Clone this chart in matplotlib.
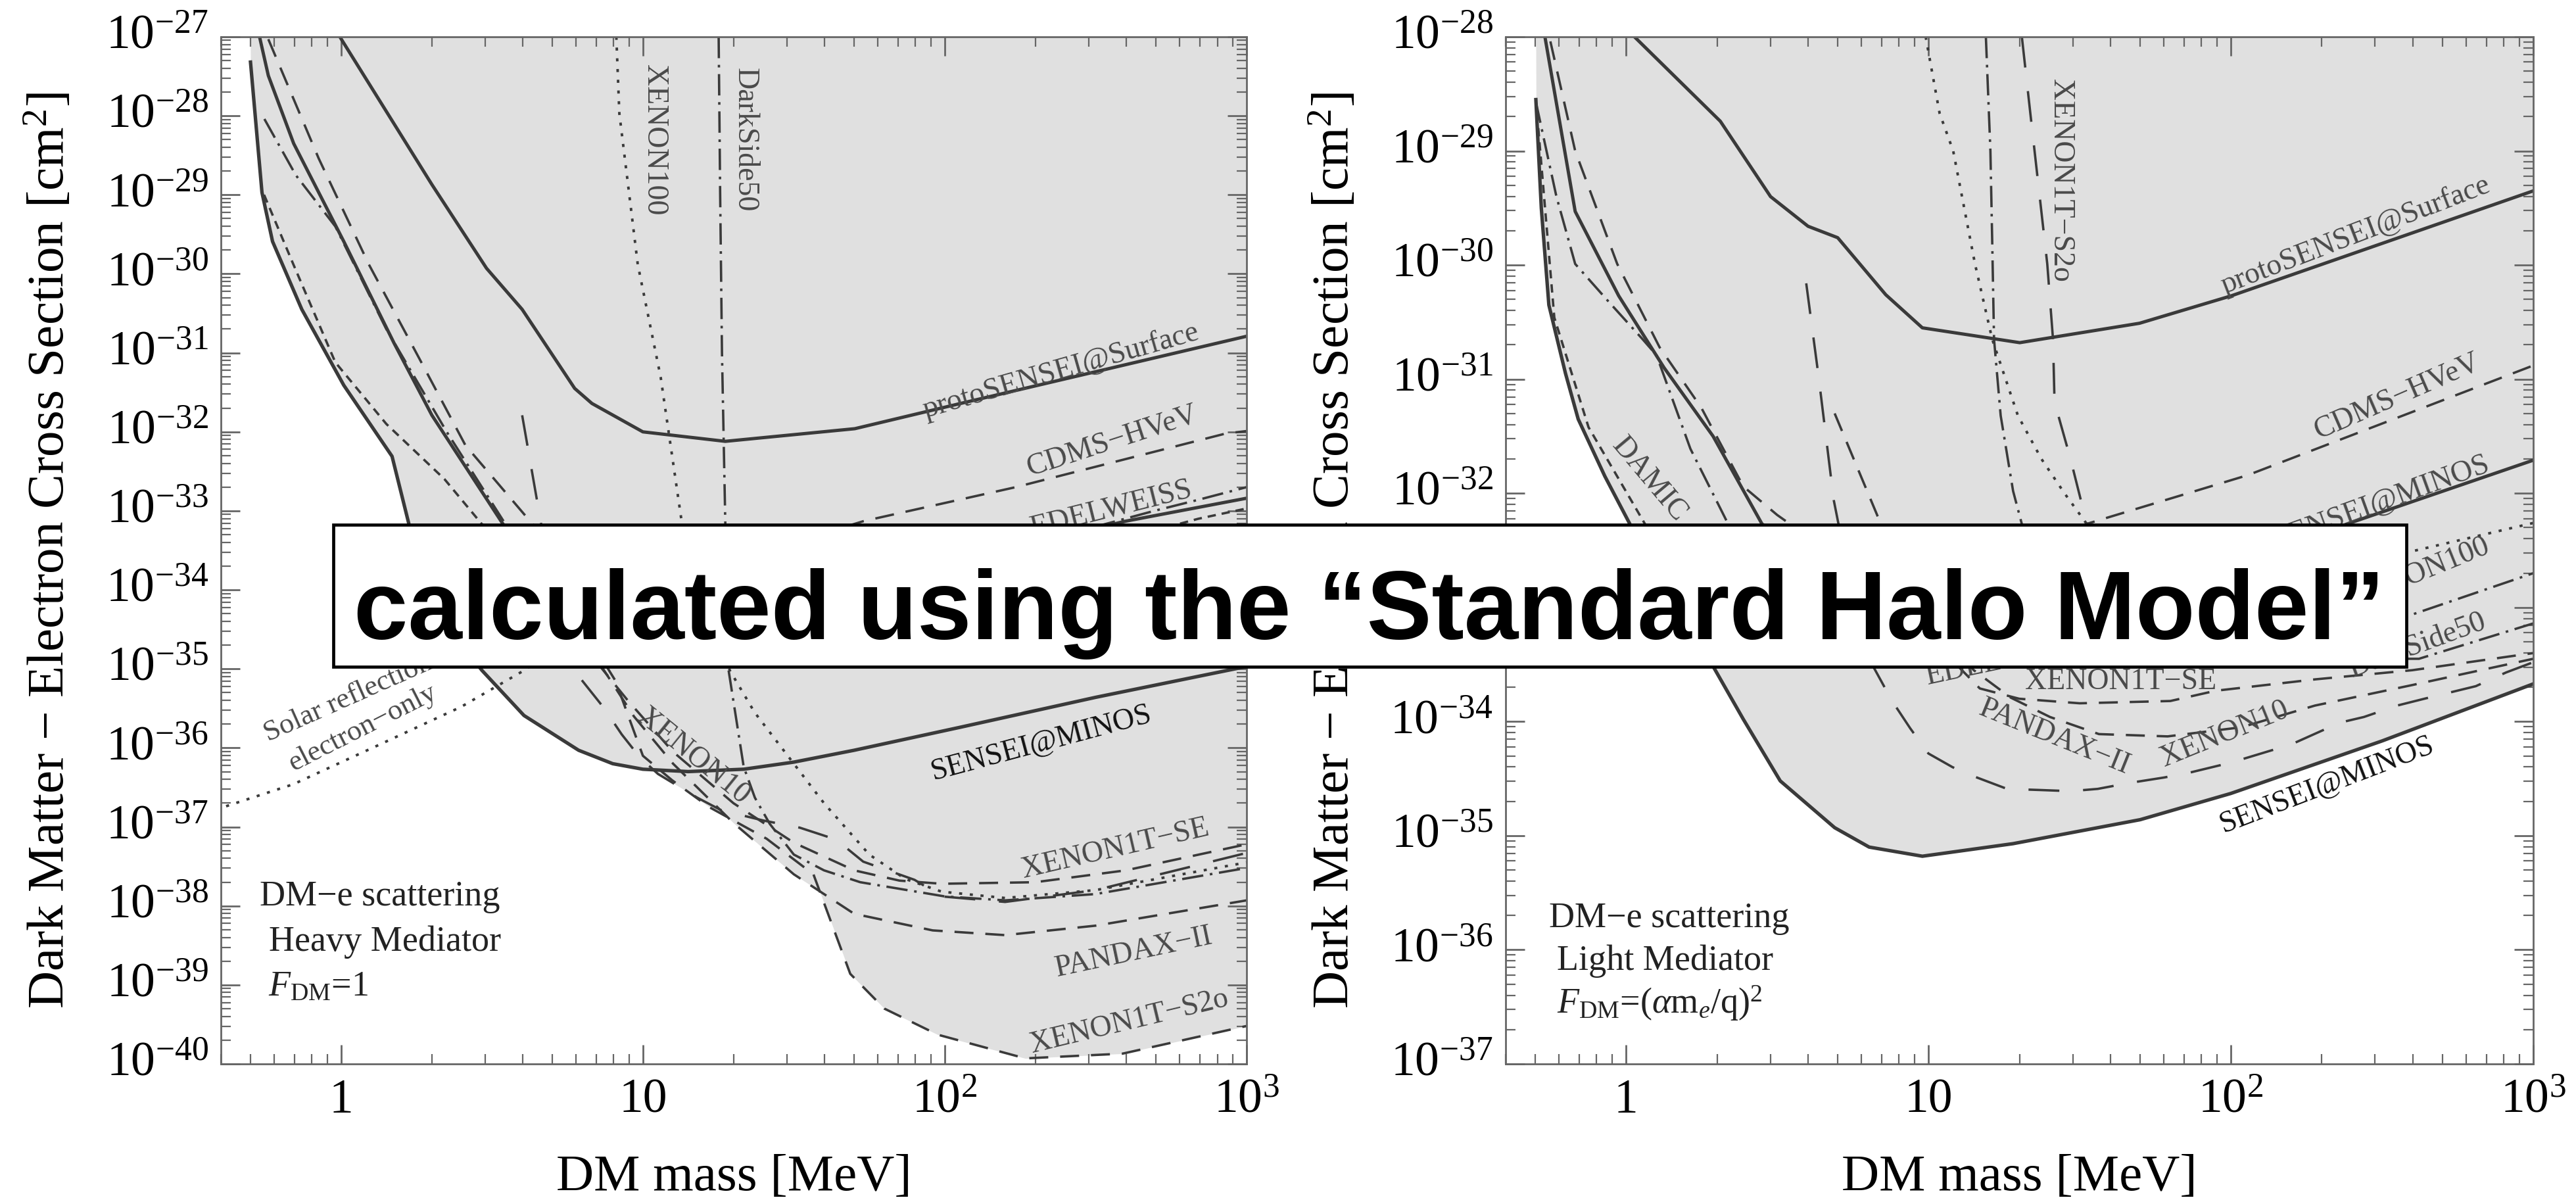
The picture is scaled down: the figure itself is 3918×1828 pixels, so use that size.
import numpy as np
import matplotlib
matplotlib.use("Agg")
import matplotlib.pyplot as plt
from matplotlib.patches import Rectangle
from matplotlib.ticker import LogLocator, NullFormatter

plt.rcParams['font.family'] = ['Liberation Serif', 'DejaVu Serif']
plt.rcParams['mathtext.fontset'] = 'custom'
plt.rcParams['mathtext.rm'] = 'Liberation Serif'
plt.rcParams['mathtext.it'] = 'Liberation Serif:italic'
plt.rcParams['mathtext.bf'] = 'Liberation Serif:bold'

LINE = '#3a3a3a'
LABEL = '#4a4a4a'
FILL = '#e0e0e0'

# all limits stored as log10(m / MeV), log10(sigma_e / cm^2)

# ---- heavy mediator, F_DM = 1
h_sensei_minos_x = [-0.300, -0.262, -0.227, -0.130, 0.009, 0.169, 0.225, 0.30, 0.38, 0.467, 0.606, 0.787, 0.90, 1.0, 1.15, 1.334, 1.50, 1.70, 2.05, 2.5, 3.0]
h_sensei_minos_y = [-27.32, -28.97, -29.59, -30.45, -31.41, -32.31, -33.17, -34.2, -34.6, -35.02, -35.59, -36.03, -36.2, -36.27, -36.30, -36.27, -36.18, -36.03, -35.74, -35.36, -34.97]
h_proto_surface_x = [-0.004, 0.301, 0.482, 0.600, 0.774, 0.831, 1.0, 1.273, 1.702, 2.053, 3.0]
h_proto_surface_y = [-27.0, -28.87, -29.93, -30.45, -31.45, -31.64, -32.0, -32.12, -31.96, -31.64, -30.79]
h_proto_minos_x = [-0.270, -0.241, -0.157, 0.009, 0.176, 0.301, 0.537, 0.8, 1.2, 1.6, 2.0, 2.3, 2.6, 3.0]
h_proto_minos_y = [-27.0, -27.49, -28.35, -29.59, -30.88, -31.79, -33.17, -34.0, -34.2, -34.0, -33.7, -33.4, -33.13, -32.84]
h_cdms_x = [-0.241, -0.074, 0.092, 0.259, 0.412, 0.635, 0.9, 1.2, 1.5, 1.731, 2.235, 2.932, 3.0]
h_cdms_y = [-27.03, -28.54, -29.88, -31.07, -32.17, -33.17, -33.9, -33.8, -33.4, -33.13, -32.70, -32.02, -31.99]
h_edelweiss_x = [-0.254, -0.15, -0.019, 0.15, 0.35, 0.55, 1.0, 2.0, 2.5, 2.694, 2.84, 3.0]
h_edelweiss_y = [-28.04, -28.75, -29.40, -30.7, -32.0, -33.2, -34.0, -33.55, -33.2, -33.0, -32.86, -32.70]
h_damic_x = [-0.255, -0.158, -0.019, 0.15, 0.343, 0.467, 0.8, 1.3, 2.0, 2.6, 2.694, 2.84, 3.0]
h_damic_y = [-29.0, -29.88, -31.12, -31.9, -32.6, -33.17, -33.7, -33.8, -33.6, -33.35, -33.25, -33.1, -32.97]
h_xenon10_x = [0.600, 0.663, 0.72, 0.772, 0.87, 0.93, 0.99, 1.05, 1.18, 1.26, 1.40, 1.52, 1.64, 1.73, 1.90, 1.99, 2.2, 2.5, 3.0]
h_xenon10_y = [-31.79, -33.17, -34.3, -35.02, -35.49, -35.83, -36.12, -36.33, -36.63, -36.79, -36.92, -37.01, -37.16, -37.44, -37.67, -37.88, -37.95, -37.8, -37.33]
h_xenon100_x = [0.912, 0.922, 0.983, 1.059, 1.129, 1.22, 1.288, 1.37, 1.46, 1.60, 1.75, 1.87, 1.99, 2.2, 2.5, 3.0]
h_xenon100_y = [-27.0, -27.97, -29.88, -31.31, -33.15, -34.3, -35.02, -35.55, -36.0, -36.7, -37.35, -37.66, -37.82, -37.9, -37.8, -37.45]
h_darkside_x = [1.251, 1.256, 1.262, 1.273, 1.284, 1.334, 1.371, 1.42, 1.50, 1.60, 1.72, 2.0, 2.2, 2.5, 3.0]
h_darkside_y = [-27.0, -29.0, -31.0, -33.15, -35.02, -36.24, -36.63, -36.96, -37.35, -37.55, -37.7, -37.88, -37.93, -37.85, -37.52]
h_xenon1t_se_x = [0.78, 0.95, 1.1, 1.3, 1.5, 1.7, 1.85, 1.99, 2.3, 2.6, 3.0]
h_xenon1t_se_y = [-34.6, -35.4, -36.05, -36.7, -37.2, -37.55, -37.68, -37.72, -37.70, -37.55, -37.22]
h_pandax_x = [0.80, 0.97, 1.1, 1.3, 1.5, 1.7, 1.96, 2.2, 2.5, 3.0]
h_pandax_y = [-34.6, -35.6, -36.2, -36.95, -37.6, -38.1, -38.31, -38.37, -38.25, -37.93]
h_xenon1t_s2o_x = [0.82, 0.909, 1.0, 1.097, 1.22, 1.41, 1.565, 1.687, 1.8, 1.977, 2.267, 2.589, 3.0]
h_xenon1t_s2o_y = [-34.6, -35.15, -36.1, -36.41, -36.75, -37.15, -37.6, -38.86, -39.3, -39.63, -39.93, -39.87, -39.52]
h_solar_x = [-0.45, -0.398, -0.158, 0.121, 0.398, 0.606, 0.8, 0.95]
h_solar_y = [-36.8, -36.76, -36.46, -35.97, -35.48, -35.02, -34.5, -34.0]

# ---- light mediator, F_DM = (alpha m_e / q)^2
l_sensei_minos_x = [-0.298, -0.28, -0.255, -0.2, -0.158, -0.07, 0.013, 0.15, 0.291, 0.388, 0.51, 0.69, 0.804, 0.98, 1.28, 1.70, 2.0, 2.5, 3.0]
l_sensei_minos_y = [-28.55, -29.5, -30.35, -30.95, -31.35, -31.85, -32.27, -32.95, -33.53, -33.98, -34.52, -34.93, -35.10, -35.18, -35.07, -34.86, -34.63, -34.17, -33.67]
l_proto_surface_x = [0.028, 0.312, 0.478, 0.602, 0.700, 0.859, 0.98, 1.302, 1.698, 2.001, 3.0]
l_proto_surface_y = [-28.0, -28.74, -29.40, -29.66, -29.76, -30.26, -30.55, -30.68, -30.51, -30.27, -29.35]
l_proto_minos_x = [-0.268, -0.168, -0.024, 0.126, 0.288, 0.45, 0.8, 1.2, 1.7, 2.1, 2.383, 3.0]
l_proto_minos_y = [-28.0, -29.53, -30.27, -30.90, -31.50, -32.27, -32.8, -32.95, -32.8, -32.55, -32.27, -31.71]
l_cdms_x = [-0.250, -0.168, -0.029, 0.111, 0.249, 0.388, 0.50, 0.8, 1.2, 1.521, 2.057, 3.0]
l_cdms_y = [-28.04, -29.0, -29.99, -30.72, -31.25, -31.94, -32.19, -32.75, -32.7, -32.27, -31.84, -30.88]
l_edelweiss_x = [-0.298, -0.23, -0.168, -0.061, 0.055, 0.101, 0.213, 0.338, 0.6, 1.0, 1.6, 2.2, 2.622, 3.0]
l_edelweiss_y = [-28.57, -29.4, -29.99, -30.31, -30.65, -30.79, -31.61, -32.27, -33.0, -33.3, -33.4, -33.45, -33.45, -33.14]
l_damic_x = [-0.29, -0.237, -0.124, 0.063, 0.2, 0.4, 0.7, 1.2]
l_damic_y = [-28.8, -30.46, -31.42, -32.27, -32.8, -33.2, -33.35, -33.4]
l_xenon10_x = [0.596, 0.637, 0.687, 0.75, 0.82, 0.88, 0.94, 1.0, 1.08, 1.16, 1.26, 1.37, 1.47, 1.56, 1.66, 1.78, 1.86, 2.0, 2.2, 2.36, 2.44, 2.55, 2.64, 2.81, 2.91, 3.0]
l_xenon10_y = [-30.16, -30.98, -32.06, -32.9, -33.53, -33.82, -34.06, -34.28, -34.40, -34.49, -34.59, -34.60, -34.61, -34.59, -34.54, -34.49, -34.45, -34.36, -34.2, -34.01, -33.96, -33.86, -33.80, -33.69, -33.57, -33.48]
l_xenon1t_se_x = [0.80, 0.9, 1.0, 1.17, 1.3, 1.5, 1.8, 1.95, 2.28, 2.6, 3.0]
l_xenon1t_se_y = [-32.4, -32.9, -33.25, -33.71, -33.80, -33.84, -33.82, -33.73, -33.63, -33.55, -33.40]
l_pandax_x = [0.69, 0.832, 1.0, 1.15, 1.272, 1.402, 1.564, 1.791, 2.035, 2.278, 2.6, 3.0]
l_pandax_y = [-31.3, -32.2, -33.1, -33.55, -33.79, -33.96, -34.11, -34.13, -34.05, -33.86, -33.68, -33.45]
l_xenon1t_s2o_x = [1.309, 1.337, 1.393, 1.412, 1.417, 1.47, 1.524, 1.6]
l_xenon1t_s2o_y = [-28.0, -28.67, -29.99, -30.65, -31.2, -31.7, -32.27, -32.9]
l_xenon100_x = [0.991, 1.037, 1.082, 1.154, 1.211, 1.296, 1.374, 1.45, 1.524, 1.8, 2.2, 2.58, 3.0]
l_xenon100_y = [-28.0, -28.67, -29.0, -29.99, -30.65, -31.32, -31.7, -32.0, -32.27, -32.9, -32.85, -32.52, -32.26]
l_darkside_x = [1.19, 1.205, 1.211, 1.217, 1.239, 1.280, 1.309, 1.6, 2.0, 2.3, 2.58, 3.0]
l_darkside_y = [-28.0, -29.0, -29.8, -30.65, -31.32, -31.98, -32.27, -33.0, -33.3, -33.25, -33.08, -32.70]

# line styles
SOLID = '-'
DASH = (0, (8, 5))
LONG = (0, (13, 10))
SHORT = (0, (3.5, 2.5))
DOT = (0, (1.2, 3.0))
DASHDOT = (0, (9, 2.8, 1.1, 2.8))

heavy_curves = [
    (h_xenon1t_s2o_x, h_xenon1t_s2o_y, DASH, 1.3, True),
    (h_pandax_x, h_pandax_y, DASH, 1.3, True),
    (h_xenon1t_se_x, h_xenon1t_se_y, DASH, 1.3, True),
    (h_darkside_x, h_darkside_y, DASHDOT, 1.3, True),
    (h_xenon100_x, h_xenon100_y, DOT, 1.4, True),
    (h_xenon10_x, h_xenon10_y, LONG, 1.3, True),
    (h_damic_x, h_damic_y, SHORT, 1.3, True),
    (h_edelweiss_x, h_edelweiss_y, DASHDOT, 1.3, True),
    (h_cdms_x, h_cdms_y, DASH, 1.3, True),
    (h_proto_minos_x, h_proto_minos_y, SOLID, 1.8, True),
    (h_proto_surface_x, h_proto_surface_y, SOLID, 1.8, True),
    (h_sensei_minos_x, h_sensei_minos_y, SOLID, 1.9, True),
    (h_solar_x, h_solar_y, DOT, 1.4, False),
]

light_curves = [
    (l_xenon1t_s2o_x, l_xenon1t_s2o_y, LONG, 1.3, True),
    (l_pandax_x, l_pandax_y, DASH, 1.3, True),
    (l_xenon1t_se_x, l_xenon1t_se_y, DASH, 1.3, True),
    (l_darkside_x, l_darkside_y, DASHDOT, 1.3, True),
    (l_xenon100_x, l_xenon100_y, DOT, 1.4, True),
    (l_xenon10_x, l_xenon10_y, LONG, 1.3, True),
    (l_damic_x, l_damic_y, SHORT, 1.3, True),
    (l_edelweiss_x, l_edelweiss_y, DASHDOT, 1.3, True),
    (l_cdms_x, l_cdms_y, DASH, 1.3, True),
    (l_proto_minos_x, l_proto_minos_y, SOLID, 1.8, True),
    (l_proto_surface_x, l_proto_surface_y, SOLID, 1.8, True),
    (l_sensei_minos_x, l_sensei_minos_y, SOLID, 1.9, True),
]

# curve labels: text, log10 m, log10 sigma, rotation, ha, va, colour
heavy_labels = [
    ('protoSENSEI@Surface', 2.384, -31.23, 16, 'center', 'center', LABEL),
    ('CDMS\u2212HVeV', 2.554, -32.12, 18, 'center', 'center', LABEL),
    ('EDELWEISS', 2.552, -32.98, 14, 'center', 'center', LABEL),
    ('SENSEI@MINOS', 2.32, -35.94, 15, 'center', 'center', '#111111'),
    ('XENON1T\u2212SE', 2.565, -37.28, 13, 'center', 'center', LABEL),
    ('PANDAX\u2212II', 2.626, -38.59, 12, 'center', 'center', LABEL),
    ('XENON1T\u2212S2o', 2.611, -39.47, 13.5, 'center', 'center', LABEL),
    ('XENON10', 1.166, -36.11, -39, 'center', 'center', LABEL),
]
heavy_vertical = [
    ('XENON100', 1.038, -27.35),
    ('DarkSide50', 1.338, -27.39),
]
light_labels = [
    ('protoSENSEI@Surface', 2.413, -29.74, 21, 'center', 'center', LABEL),
    ('CDMS\u2212HVeV', 2.55, -31.15, 23.5, 'center', 'center', LABEL),
    ('protoSENSEI@MINOS', 2.852, -31.74, 20, 'right', 'center', LABEL),
    ('XENON100', 2.852, -32.46, 22, 'right', 'center', LABEL),
    ('DarkSide50', 2.841, -33.12, 20, 'right', 'center', LABEL),
    ('EDELWEISS', 0.996, -33.67, 12, 'left', 'baseline', LABEL),
    ('XENON1T\u2212SE', 1.637, -33.65, 0, 'center', 'center', LABEL),
    ('PANDAX\u2212II', 1.417, -34.14, -22, 'center', 'center', LABEL),
    ('XENON10', 1.98, -34.11, 22, 'center', 'center', LABEL),
    ('SENSEI@MINOS', 2.319, -34.55, 21, 'center', 'center', '#111111'),
    ('DAMIC', 0.078, -31.88, -50, 'center', 'center', LABEL),
]
light_vertical = [
    ('XENON1T\u2212S2o', 1.437, -28.37),
]


def draw_panel(ax, curves, ylo, yhi, labels, vertical):
    grid = np.linspace(-0.303, 3.0, 4000)
    env = np.full_like(grid, np.inf)
    for xs, ys, style, lw, bounds in curves:
        if not bounds:
            continue
        xs = np.asarray(xs)
        inside = (grid >= xs[0]) & (grid <= xs[-1])
        env[inside] = np.minimum(env[inside], np.interp(grid[inside], xs, ys))
    env = np.minimum(env, yhi)
    ax.fill_between(10 ** grid, 10.0 ** env, 10.0 ** yhi, color=FILL, lw=0, zorder=1)

    for xs, ys, style, lw, bounds in curves:
        ax.plot(10 ** np.asarray(xs), 10.0 ** np.asarray(ys), color=LINE, lw=lw,
                linestyle=style, zorder=2, dash_capstyle='butt')

    for txt, lx, ly, rot, ha, va, col in labels:
        ax.text(10 ** lx, 10.0 ** ly, txt, rotation=rot, ha=ha, va=va, color=col,
                fontsize=16.5, rotation_mode='anchor', zorder=3)
    for txt, lx, ly in vertical:
        ax.text(10 ** lx, 10.0 ** ly, txt, rotation=-90, ha='center', va='top',
                color=LABEL, fontsize=16.5, zorder=3)

    ax.set_xscale('log')
    ax.set_yscale('log')
    ax.set_xlim(10 ** -0.398, 1e3)
    ax.set_ylim(float('1e%d' % ylo), float('1e%d' % yhi))
    ax.set_xticks([1, 10, 100, 1000])
    ax.set_xticklabels(['1', '10', r'$\mathdefault{10^{2}}$', r'$\mathdefault{10^{3}}$'])
    ax.xaxis.set_minor_locator(LogLocator(base=10, subs=np.arange(2, 10), numticks=30))
    ax.xaxis.set_minor_formatter(NullFormatter())
    ax.yaxis.set_major_locator(LogLocator(base=10, numticks=40))
    ax.yaxis.set_minor_locator(LogLocator(base=10, subs=np.arange(2, 10), numticks=40))
    ax.yaxis.set_minor_formatter(NullFormatter())

    ax.tick_params(which='both', direction='in', top=True, right=True, color='#666666')
    ax.tick_params(which='major', length=10.5, width=1.0, labelsize=26.5)
    ax.tick_params(which='minor', length=5.5, width=0.8)
    ax.tick_params(axis='x', pad=8)
    ax.tick_params(axis='y', pad=7)
    for s in ax.spines.values():
        s.set_color('#666666')
        s.set_linewidth(1.0)
    # centre the whole exponent label on its tick
    for lbl in ax.get_yticklabels():
        lbl.set_verticalalignment('center')

    ax.set_xlabel('DM mass [MeV]', fontsize=28.5)
    ax.xaxis.set_label_coords(0.5, -0.088)
    ax.set_ylabel('Dark Matter \u2212 Electron Cross Section [cm$^2$]', fontsize=28.5)
    ax.yaxis.set_label_coords(-0.142, 0.5)


fig = plt.figure(figsize=(19.59, 9.14), dpi=200)
ax1 = fig.add_axes([0.08576, 0.11488, 0.39816, 0.85449])
ax2 = fig.add_axes([0.58448, 0.11488, 0.39893, 0.85449])

draw_panel(ax1, heavy_curves, -40, -27, heavy_labels, heavy_vertical)
draw_panel(ax2, light_curves, -37, -28, light_labels, light_vertical)

# solar reflection annotation (left panel)
ax1.text(10 ** -0.241, 10.0 ** -35.92, 'Solar reflection', rotation=24, ha='left',
         va='baseline', rotation_mode='anchor', color=LABEL, fontsize=16, zorder=3)
ax1.text(10 ** -0.158, 10.0 ** -36.30, 'electron\u2212only', rotation=27, ha='left',
         va='baseline', rotation_mode='anchor', color=LABEL, fontsize=16, zorder=3)

# model descriptions
ax1.text(0.155, 0.154, 'DM\u2212e scattering', transform=ax1.transAxes, ha='center',
         va='baseline', fontsize=19.5, color='#222222')
ax1.text(0.160, 0.110, 'Heavy Mediator', transform=ax1.transAxes, ha='center',
         va='baseline', fontsize=19.5, color='#222222')
ax1.text(0.046, 0.066, r'$F_{\mathrm{DM}}$=1', transform=ax1.transAxes, ha='left',
         va='baseline', fontsize=19.5, color='#222222')
ax2.text(0.159, 0.133, 'DM\u2212e scattering', transform=ax2.transAxes, ha='center',
         va='baseline', fontsize=19.5, color='#222222')
ax2.text(0.155, 0.0915, 'Light Mediator', transform=ax2.transAxes, ha='center',
         va='baseline', fontsize=19.5, color='#222222')
ax2.text(0.050, 0.049, r'$F_{\mathrm{DM}}$=($\alpha$m$_e$/q)$^2$', transform=ax2.transAxes,
         ha='left', va='baseline', fontsize=19.5, color='#222222')

# banner across both panels
fig.add_artist(Rectangle((0.1294, 0.4453), 0.8048, 0.1182, transform=fig.transFigure,
                         facecolor='white', edgecolor='black', lw=1.7, zorder=20))
fig.text(0.5314, 0.4683, 'calculated using the \u201cStandard Halo Model\u201d',
         ha='center', va='baseline', fontsize=53.4, fontweight='bold',
         family=['Liberation Sans', 'DejaVu Sans'], zorder=21)

fig.savefig('out.png', dpi=200)
